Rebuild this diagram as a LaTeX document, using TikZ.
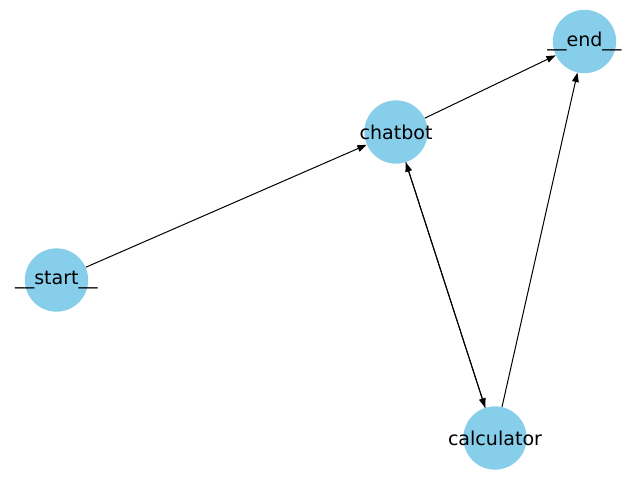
\documentclass[tikz,border=0pt]{standalone}
\usepackage{fontspec}
\setmainfont{DejaVu Sans}
\usetikzlibrary{arrows.meta}
\definecolor{nodeblue}{HTML}{87CEEB}
\begin{document}
\begin{tikzpicture}[x=0.75pt,y=-0.75pt,
  vertex/.style={circle,fill=nodeblue,minimum size=47.5pt,inner sep=0pt},
  lbl/.style={font=\fontsize{14.3pt}{16pt}\selectfont,inner sep=0pt},
  link/.style={draw=black,line width=0.75pt,-{Stealth[length=7pt,width=5pt,inset=0pt]}}]
\useasboundingbox (0,0) rectangle (640,480);
\node[vertex,label={[lbl]center:\_\_start\_\_}] (start) at (56.5,280) {};
\node[vertex,label={[lbl]center:chatbot}] (chatbot) at (396,132) {};
\node[vertex,label={[lbl]center:\_\_end\_\_}] (end) at (584.5,41.5) {};
\node[vertex,label={[lbl]center:calculator}] (calc) at (495,438) {};
\draw[link] (start) -- (chatbot);
\draw[link] (chatbot) -- (end);
\draw[link] (chatbot) -- (calc);
\draw[link] (calc) -- (chatbot);
\draw[link] (calc) -- (end);
\end{tikzpicture}
\end{document}
